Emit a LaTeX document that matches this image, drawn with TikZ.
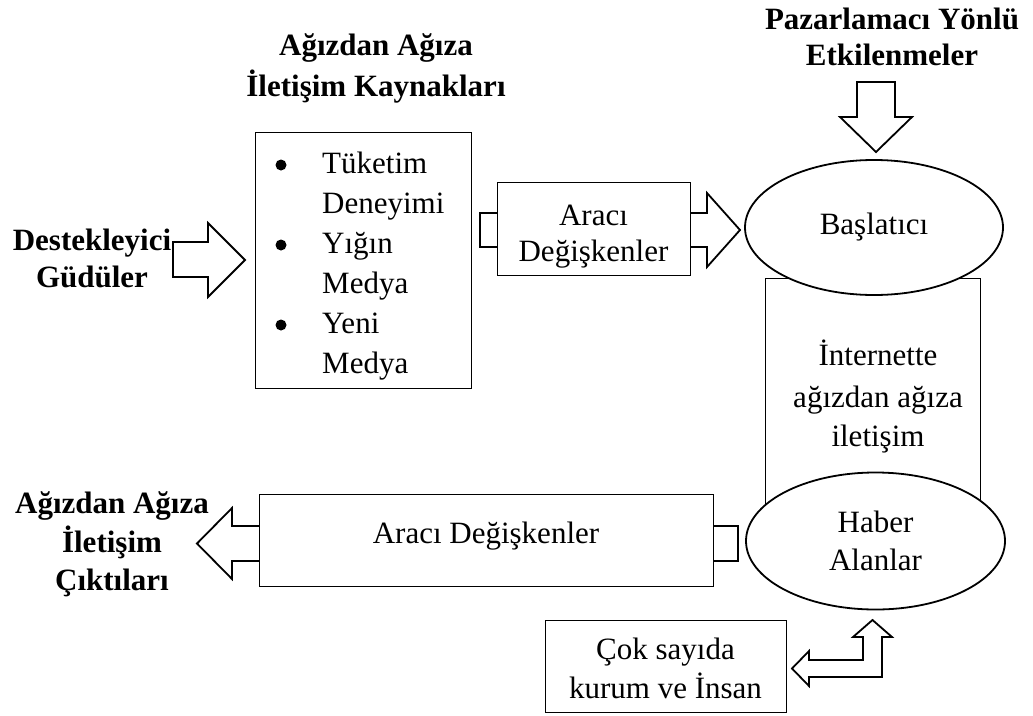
\documentclass[tikz,border=0pt]{standalone}
\usepackage{fontspec}
\setmainfont{Liberation Serif}
\usetikzlibrary{shapes.geometric}
\begin{document}
\begin{tikzpicture}[x=1pt,y=-1pt,
  txt/.style={font=\fontsize{31}{38}\selectfont, inner sep=0pt},
  bold/.style={font=\fontsize{31}{38}\selectfont\bfseries, inner sep=0pt},
  thinbox/.style={draw, line width=0.9pt, fill=white},
  bulletdot/.style={circle, fill=black, inner sep=0pt, minimum size=11pt},
  blockarrow/.style={draw, line width=1.8pt, fill=white, line join=miter},
  oval/.style={draw, line width=1.8pt, fill=white, ellipse, inner sep=0pt,
               font=\fontsize{31}{38}\selectfont, align=center}
]
\useasboundingbox (0,0) rectangle (1033,715);

% ---- sources box with bullet list ----
\node[thinbox, minimum width=216pt, minimum height=256pt] (src) at (363,260) {};
\foreach \n/\t/\y in {a/Tüketim/173, b/Deneyimi/213, c/Yığın/253, d/Medya/293, e/Yeni/333, f/Medya/373}
  \node[txt, anchor=base west] (item\n) at (322,\y) {\t};
\foreach \n/\y in {a/165, c/245, e/325}
  \node[bulletdot] (bul\n) at (281,\y) {};

% ---- headings ----
\node[bold, anchor=base] (srcA) at (376,55) {Ağızdan Ağıza};
\node[bold, anchor=base] (srcB) at (376,96) {İletişim Kaynakları};
\node[bold, anchor=base] (motA) at (92,250) {Destekleyici};
\node[bold, anchor=base] (motB) at (92,287) {Güdüler};
\node[bold, anchor=base] (mktA) at (892,29) {Pazarlamacı Yönlü};
\node[bold, anchor=base] (mktB) at (892,65) {Etkilenmeler};
\node[bold, anchor=base] (outA) at (112,513) {Ağızdan Ağıza};
\node[bold, anchor=base] (outB) at (112,552) {İletişim};
\node[bold, anchor=base] (outC) at (112,590) {Çıktıları};

% ---- motives -> sources ----
\draw[blockarrow] (173,242) -- (208,242) -- (208,223) -- (245,260) -- (208,297)
  -- (208,277) -- (173,277) -- cycle;

% ---- mediators (upper) with arrow passing behind ----
\draw[blockarrow] (480,213) -- (707,213) -- (707,193) -- (740,230) -- (707,267)
  -- (707,247) -- (480,247) -- cycle;
\node[thinbox, minimum width=193pt, minimum height=93pt] (med) at (593.5,228.5) {};
\node[txt, anchor=base] (medA) at (593.5,225) {Aracı};
\node[txt, anchor=base] (medB) at (593.5,261) {Değişkenler};

% ---- eWOM column ----
\node[thinbox, minimum width=215pt, minimum height=263pt] (ewom) at (872.5,409.5) {};
\node[txt, anchor=base] (ewA) at (878,365) {İnternette};
\node[txt, anchor=base] (ewB) at (878,407) {ağızdan ağıza};
\node[txt, anchor=base] (ewC) at (878,446) {iletişim};

\node[oval, minimum width=258pt, minimum height=135pt] (init) at (874,227.5) {Başlatıcı};
\node[oval, minimum width=259pt, minimum height=137pt] (recv) at (875.5,541) {Haber\\Alanlar};

% ---- marketer influence -> initiator ----
\draw[blockarrow] (857,82) -- (895,82) -- (895,117) -- (912,117) -- (876,152)
  -- (840,117) -- (857,117) -- cycle;

% ---- mediators (lower) -> outcomes ----
\draw[blockarrow] (738,526) -- (232,526) -- (232,508) -- (197,543.5) -- (232,579)
  -- (232,561) -- (738,561) -- cycle;
\node[thinbox, minimum width=454pt, minimum height=92pt] (med2) at (486,540) {};
\node[txt, anchor=base] (med2t) at (486,543) {Aracı Değişkenler};

% ---- institutions and people <-> receivers ----
\node[thinbox, minimum width=241pt, minimum height=92pt] (inst) at (665.5,666) {};
\node[txt, anchor=base] (instA) at (665.5,659) {Çok sayıda};
\node[txt, anchor=base] (instB) at (665.5,698) {kurum ve İnsan};
\draw[blockarrow] (809,660) -- (863,660) -- (863,637) -- (853,637) -- (872.5,620)
  -- (892,637) -- (882,637) -- (882,677) -- (809,677) -- (809,686)
  -- (792,668.5) -- (809,651) -- cycle;
\end{tikzpicture}
\end{document}
